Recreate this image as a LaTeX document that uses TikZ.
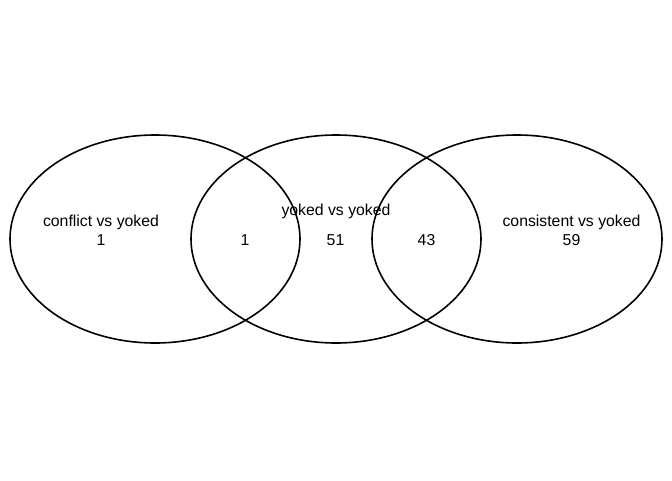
\documentclass[tikz,border=0pt]{standalone}
\usepackage{fontspec}
\setmainfont{Liberation Sans}
\begin{document}
\begin{tikzpicture}[x=1pt,y=-1pt,
  setline/.style={line width=1.6pt, black},
  lbl/.style={anchor=base, inner sep=0pt, font=\fontsize{15.8}{19}\selectfont}]
\useasboundingbox (0,0) rectangle (672,480);
% the three sets
\draw[setline] (155,239) ellipse [x radius=145, y radius=104];
\draw[setline] (336,239) ellipse [x radius=145, y radius=104];
\draw[setline] (517,239) ellipse [x radius=145, y radius=104];
% set names
\node[lbl] (nameA) at (101,226) {conflict vs yoked};
\node[lbl] (nameB) at (336,215) {yoked vs yoked};
\node[lbl] (nameC) at (571.5,226) {consistent vs yoked};
% region counts
\node[lbl] (cA)  at (101,245) {1};
\node[lbl] (cAB) at (245,245) {1};
\node[lbl] (cB)  at (335.5,245) {51};
\node[lbl] (cBC) at (426.5,245) {43};
\node[lbl] (cC)  at (571.5,245) {59};
\end{tikzpicture}
\end{document}
